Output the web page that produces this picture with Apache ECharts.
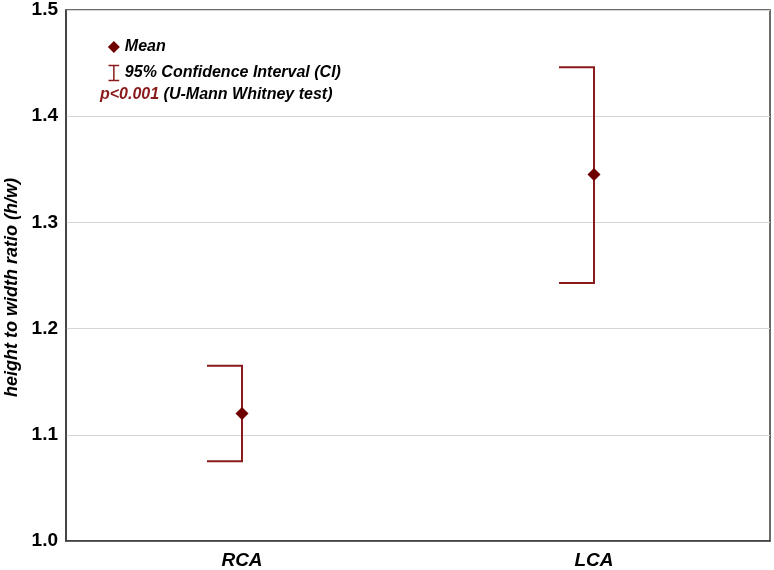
<!DOCTYPE html>
<html>
<head>
<meta charset="utf-8">
<script src="https://cdn.jsdelivr.net/npm/echarts@6/dist/echarts.min.js"></script>
<style>
html, body { margin: 0; padding: 0; background: #fff; }
#chart { width: 774px; height: 570px; }
</style>
</head>
<body>
<div id="chart"></div>
<script>
// values
var categories = ['RCA', 'LCA']
var means = [1.12, 1.345]
var ciLow = [1.075, 1.243]
var ciHigh = [1.165, 1.446]
var yTicks = [1.0, 1.1, 1.2, 1.3, 1.4, 1.5]

var red = '#8b1a1a'
var font = 'Liberation Sans, Arial, sans-serif'

var myChart = echarts.init(document.getElementById('chart'))

var ciData = categories.map(function (c, i) {
    return [i, ciLow[i], ciHigh[i]]
})

var options = {
    animation: false,
    grid: {
        left: 66,
        right: 4,
        top: 10,
        bottom: 29,
        outerBoundsMode: 'none',
        containLabel: false,
        show: true,
        borderColor: '#3a3a3a',
        borderWidth: 1.5
    },
    legend: {
        orient: 'vertical',
        left: 101,
        top: 34,
        itemGap: 8,
        itemWidth: 12,
        itemHeight: 15,
        textStyle: {
            color: '#000',
            fontFamily: font,
            fontSize: 16,
            fontWeight: 'bold',
            fontStyle: 'italic'
        },
        data: [
            { name: 'Mean', icon: 'path://M5,1 L10,6 L5,11 L0,6 Z', itemStyle: { color: '#6e0000', opacity: 1 } },
            { name: '95% Confidence Interval (CI)', icon: 'path://M0,0 L10,0 M5,0 L5,14 M0,14 L10,14', itemStyle: { color: 'none', borderColor: red, borderWidth: 1.5 } }
        ]
    },
    graphic: [{
        type: 'text',
        left: 100,
        top: 87,
        style: {
            text: '{p|p<0.001} (U-Mann Whitney test)',
            font: 'italic bold 16px ' + font,
            fill: '#000',
            rich: {
                p: { fill: red, font: 'italic bold 16px ' + font }
            }
        }
    }],
    xAxis: {
        type: 'category',
        data: categories,
        axisLine: { lineStyle: { color: '#3a3a3a', width: 1.5 } },
        axisTick: { alignWithLabel: true, inside: true, length: 5, lineStyle: { color: '#3a3a3a' } },
        axisLabel: {
            color: '#000',
            fontFamily: font,
            fontSize: 19,
            fontWeight: 'bold',
            fontStyle: 'italic',
            margin: 10
        }
    },
    yAxis: {
        type: 'value',
        min: yTicks[0],
        max: yTicks[yTicks.length - 1],
        interval: 0.1,
        name: 'height to width ratio (h/w)',
        nameLocation: 'middle',
        nameGap: 43,
        nameTextStyle: {
            color: '#000',
            fontFamily: font,
            fontSize: 18,
            fontWeight: 'bold',
            fontStyle: 'italic',
            padding: [0, 24, 0, 0]
        },
        axisLine: { show: true, lineStyle: { color: '#3a3a3a', width: 1.5 } },
        axisTick: { show: false },
        splitLine: { lineStyle: { color: '#d6d6d6', width: 1 } },
        axisLabel: {
            color: '#000',
            fontFamily: font,
            fontSize: 19,
            fontWeight: 'bold',
            margin: 8,
            formatter: function (v) { return v.toFixed(1) }
        }
    },
    series: [
        {
            name: '95% Confidence Interval (CI)',
            type: 'custom',
            data: ciData,
            renderItem: function (params, api) {
                var x = api.value(0)
                var lo = api.coord([x, api.value(1)])
                var hi = api.coord([x, api.value(2)])
                var cap = 35
                return {
                    type: 'polyline',
                    shape: {
                        points: [[hi[0] - cap, hi[1]], [hi[0], hi[1]], [lo[0], lo[1]], [lo[0] - cap, lo[1]]]
                    },
                    style: { stroke: red, lineWidth: 2, fill: null }
                }
            },
            z: 2
        },
        {
            name: 'Mean',
            type: 'scatter',
            symbol: 'diamond',
            symbolSize: 13,
            itemStyle: { color: '#6e0000', opacity: 1 },
            data: means,
            z: 3
        }
    ]
}

myChart.setOption(options)
</script>
</body>
</html>
